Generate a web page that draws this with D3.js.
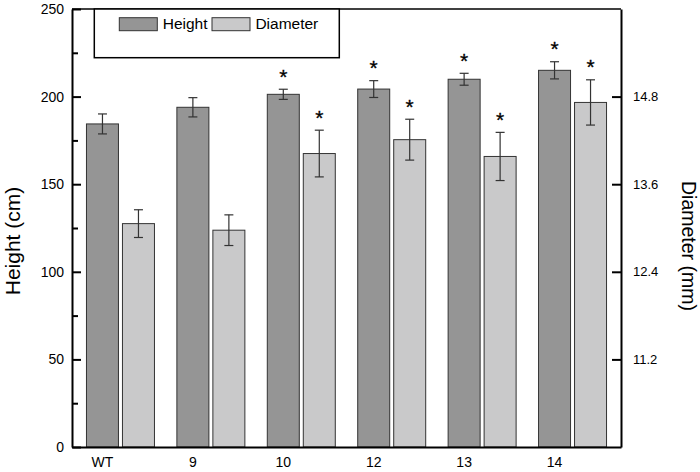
<!DOCTYPE html>
<html>
<head>
<meta charset="utf-8">
<script src="https://cdn.jsdelivr.net/npm/d3@7"></script>
<style>
  body { margin: 0; background: #fff; }
  text { font-family: "Liberation Sans", Arial, sans-serif; fill: #000; }
</style>
</head>
<body>
<div id="chart"></div>
<script>
// data
const categories = ["WT", "9", "10", "12", "13", "14"];
const seriesNames = ["Height", "Diameter"];
const heightMean = [184.4, 193.9, 201.3, 204.3, 209.9, 215.0];
const heightErr = [5.7, 5.5, 2.9, 4.8, 3.4, 4.9];
const diameterMean = [13.06, 12.97, 14.02, 14.21, 13.98, 14.72];
const diameterErr = [0.19, 0.21, 0.32, 0.28, 0.33, 0.31];
const heightSig = [false, false, true, true, true, true];
const diameterSig = [false, false, true, true, true, true];
const leftTicks = [0, 50, 100, 150, 200, 250];
const leftMinorTicks = [25, 75, 125, 175, 225];
const rightTicks = [11.2, 12.4, 13.6, 14.8];

const W = 700, H = 472;
const plotL = 72, plotR = 621, plotT = 9, plotB = 447;
const colors = { Height: "#959595", Diameter: "#c9c9ca" };

const svg = d3.select("#chart")
    .append("svg")
        .attr("width", W)
        .attr("height", H)
        .attr("viewBox", `0 0 ${W} ${H}`);

const x = d3.scaleBand()
    .domain(categories)
    .range([plotL, plotR])
    .paddingInner(0.248)
    .paddingOuter(0.16);

const xSub = d3.scaleBand()
    .domain(seriesNames)
    .range([0, x.bandwidth()])
    .paddingInner(0.111);

const yL = d3.scaleLinear().domain([0, 250]).range([plotB, plotT]);
const yR = d3.scaleLinear().domain([10, 16]).range([plotB, plotT]);

const rows = categories.flatMap((c, i) => [
    { cat: c, s: "Height", v: heightMean[i], e: heightErr[i], sig: heightSig[i], y: yL },
    { cat: c, s: "Diameter", v: diameterMean[i], e: diameterErr[i], sig: diameterSig[i], y: yR }
]);
const bx = d => x(d.cat) + xSub(d.s);

// bars
svg.selectAll(".bar")
    .data(rows)
    .join("rect")
        .attr("class", "bar")
        .attr("x", bx)
        .attr("y", d => d.y(d.v))
        .attr("width", xSub.bandwidth())
        .attr("height", d => plotB - d.y(d.v))
        .attr("fill", d => colors[d.s])
        .attr("stroke", "#333")
        .attr("stroke-width", 1);

// error bars
const eb = svg.selectAll(".err")
    .data(rows)
    .join("g")
        .attr("class", "err")
        .attr("stroke", "#333")
        .attr("stroke-width", 1.2);
const cx = d => bx(d) + xSub.bandwidth() / 2;
eb.append("line")
    .attr("x1", cx).attr("x2", cx)
    .attr("y1", d => d.y(d.v + d.e))
    .attr("y2", d => d.y(d.v - d.e));
eb.append("line")
    .attr("x1", d => cx(d) - 4.5).attr("x2", d => cx(d) + 4.5)
    .attr("y1", d => d.y(d.v + d.e)).attr("y2", d => d.y(d.v + d.e));
eb.append("line")
    .attr("x1", d => cx(d) - 4.5).attr("x2", d => cx(d) + 4.5)
    .attr("y1", d => d.y(d.v - d.e)).attr("y2", d => d.y(d.v - d.e));

// significance stars
svg.selectAll(".star")
    .data(rows.filter(d => d.sig))
    .join("text")
        .attr("class", "star")
        .attr("x", cx)
        .attr("y", d => d.y(d.v + d.e) - 5.5)
        .attr("text-anchor", "middle")
        .attr("font-size", 21)
        .attr("stroke", "#000")
        .attr("stroke-width", 0.3)
        .text("*");

// left axis
const axL = svg.append("g")
    .attr("transform", `translate(${plotL},0)`)
    .call(d3.axisLeft(yL).tickValues(leftTicks).tickSize(-9).tickSizeOuter(0).tickPadding(8));
axL.selectAll("text").attr("font-size", 14);
svg.append("g")
    .attr("transform", `translate(${plotL},0)`)
    .call(d3.axisLeft(yL).tickValues(leftMinorTicks).tickSize(-6).tickSizeOuter(0).tickFormat(""))
    .select(".domain").remove();

// right axis
const axR = svg.append("g")
    .attr("transform", `translate(${plotR},0)`)
    .call(d3.axisRight(yR).tickValues(rightTicks).tickSize(-9).tickSizeOuter(0).tickPadding(12).tickFormat(d3.format(".1f")));
axR.selectAll("text").attr("font-size", 13);

// bottom axis, labels sit under the Height bar
const axB = svg.append("g")
    .attr("transform", `translate(0,${plotB})`)
    .call(d3.axisBottom(x).tickSize(0).tickPadding(10));
axB.selectAll("text")
    .attr("font-size", 14)
    .attr("dx", xSub("Height") + xSub.bandwidth() / 2 - x.bandwidth() / 2);

svg.selectAll(".domain").attr("stroke", "#000").attr("stroke-width", 2);
svg.selectAll(".tick line").attr("stroke", "#000").attr("stroke-width", 2);

// top border
svg.append("line")
    .attr("x1", plotL).attr("x2", plotR)
    .attr("y1", plotT).attr("y2", plotT)
    .attr("stroke", "#000").attr("stroke-width", 1.5);

// axis titles
svg.append("text")
    .attr("transform", "translate(20,241) rotate(-90)")
    .attr("text-anchor", "middle")
    .attr("font-size", 21)
    .text("Height (cm)");
svg.append("text")
    .attr("transform", "translate(681.5,246) rotate(90)")
    .attr("text-anchor", "middle")
    .attr("font-size", 19.5)
    .text("Diameter (mm)");

// legend
const lg = svg.append("g");
lg.append("rect")
    .attr("x", 94.3).attr("y", plotT)
    .attr("width", 245).attr("height", 48.7)
    .attr("fill", "#fff").attr("stroke", "#000").attr("stroke-width", 1.5);
const legendX = [119.3, 212];
seriesNames.forEach((s, i) => {
    lg.append("rect")
        .attr("x", legendX[i]).attr("y", 17.7)
        .attr("width", 38).attr("height", 13)
        .attr("fill", colors[s]).attr("stroke", "#333");
    lg.append("text")
        .attr("x", legendX[i] + 43.4).attr("y", 29.3)
        .attr("font-size", 15.5)
        .text(s);
});
</script>
</body>
</html>
